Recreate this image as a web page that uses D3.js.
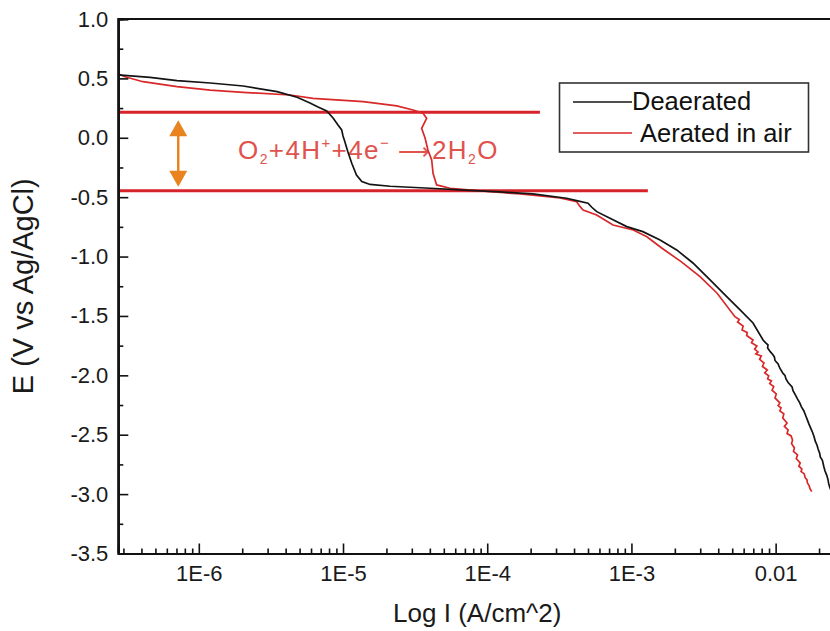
<!DOCTYPE html>
<html>
<head>
<meta charset="utf-8">
<script src="https://cdn.jsdelivr.net/npm/d3@7/dist/d3.min.js"></script>
<style>
  html, body { margin: 0; padding: 0; background: #fff; }
  svg { display: block; font-family: "Liberation Sans", Arial, sans-serif; }
</style>
</head>
<body>
<svg id="chart" width="830" height="631"></svg>
<script>
// Potentiodynamic polarization curves: current density (A/cm^2) vs potential (V vs Ag/AgCl)
const seriesNames = ["Deaerated", "Aerated in air"];

const deaeratedI = [2.75e-7, 4.59e-7, 7.06e-7, 1.20e-6, 2.03e-6, 3.49e-6, 4.80e-6, 5.90e-6, 6.71e-6, 7.71e-6,
  8.53e-6, 9.23e-6, 9.79e-6, 1.00e-5, 1.03e-5, 1.08e-5, 1.15e-5, 1.24e-5, 1.35e-5, 1.54e-5,
  2.12e-5, 4.01e-5, 6.47e-5, 1.23e-4, 2.07e-4, 3.55e-4, 4.17e-4, 5.00e-4, 5.31e-4, 5.75e-4,
  7.10e-4, 9.28e-4, 1.20e-3, 1.58e-3, 2.06e-3, 2.67e-3, 3.51e-3, 4.58e-3, 5.67e-3, 6.97e-3,
  8.18e-3, 8.50e-3, 8.85e-3, 8.80e-3, 9.20e-3, 9.55e-3, 9.80e-3, 9.90e-3, 1.04e-2, 1.07e-2,
  1.12e-2, 1.16e-2, 1.18e-2, 1.22e-2, 1.30e-2, 1.32e-2, 1.37e-2, 1.42e-2, 1.47e-2, 1.51e-2,
  1.57e-2, 1.62e-2, 1.66e-2, 1.70e-2, 1.76e-2, 1.81e-2, 1.85e-2, 1.88e-2, 1.94e-2, 1.97e-2,
  2.02e-2, 2.04e-2, 2.11e-2, 2.13e-2, 2.16e-2, 2.20e-2, 2.26e-2, 2.31e-2, 2.33e-2, 2.37e-2,
  2.44e-2, 2.50e-2];
const deaeratedE = [0.529, 0.508, 0.481, 0.461, 0.436, 0.388, 0.341, 0.293, 0.259, 0.226,
  0.167, 0.108, 0.066, 0.015, -0.033, -0.117, -0.215, -0.313, -0.368, -0.393,
  -0.408, -0.425, -0.439, -0.456, -0.473, -0.509, -0.529, -0.551, -0.585, -0.622,
  -0.678, -0.748, -0.790, -0.860, -0.944, -1.054, -1.197, -1.338, -1.449, -1.559,
  -1.702, -1.725, -1.744, -1.770, -1.803, -1.825, -1.845, -1.875, -1.904, -1.940,
  -1.980, -2.000, -2.030, -2.060, -2.098, -2.130, -2.165, -2.200, -2.232, -2.265,
  -2.300, -2.342, -2.375, -2.409, -2.450, -2.485, -2.520, -2.552, -2.590, -2.620,
  -2.655, -2.687, -2.715, -2.737, -2.770, -2.805, -2.840, -2.880, -2.910, -2.939,
  -2.980, -3.024];

const aeratedI = [2.70e-7, 2.88e-7, 3.08e-7, 4.10e-7, 7.06e-7, 1.20e-6, 2.03e-6, 4.30e-6, 6.19e-6, 1.38e-5,
  2.36e-5, 3.06e-5, 3.59e-5, 3.80e-5, 3.51e-5, 3.71e-5, 3.88e-5, 4.12e-5, 4.21e-5, 4.46e-5,
  5.52e-5, 8.50e-5, 1.69e-4, 3.20e-4, 4.17e-4, 4.41e-4, 4.62e-4, 5.74e-4, 7.45e-4, 1.03e-3,
  1.28e-3, 1.63e-3, 2.21e-3, 2.99e-3, 3.93e-3, 5.22e-3, 5.60e-3, 5.45e-3, 5.95e-3, 5.85e-3,
  6.35e-3, 6.30e-3, 6.97e-3, 6.80e-3, 7.41e-3, 7.15e-3, 7.55e-3, 7.30e-3, 7.95e-3, 7.75e-3,
  8.30e-3, 8.10e-3, 8.75e-3, 8.40e-3, 8.95e-3, 8.80e-3, 9.35e-3, 9.10e-3, 9.70e-3, 9.45e-3,
  1.01e-2, 9.90e-3, 1.07e-2, 1.04e-2, 1.09e-2, 1.07e-2, 1.14e-2, 1.12e-2, 1.20e-2, 1.15e-2,
  1.22e-2, 1.20e-2, 1.28e-2, 1.31e-2, 1.29e-2, 1.35e-2, 1.33e-2, 1.42e-2, 1.39e-2, 1.48e-2,
  1.45e-2, 1.52e-2, 1.50e-2, 1.58e-2, 1.60e-2, 1.65e-2, 1.66e-2, 1.71e-2, 1.73e-2, 1.78e-2];
const aeratedE = [0.543, 0.529, 0.514, 0.472, 0.430, 0.402, 0.383, 0.360, 0.332, 0.304,
  0.268, 0.234, 0.206, 0.164, 0.080, -0.004, -0.103, -0.187, -0.299, -0.397,
  -0.425, -0.445, -0.473, -0.507, -0.538, -0.580, -0.608, -0.650, -0.734, -0.776,
  -0.833, -0.930, -1.043, -1.169, -1.309, -1.506, -1.530, -1.551, -1.585, -1.618,
  -1.640, -1.665, -1.702, -1.725, -1.753, -1.780, -1.803, -1.820, -1.837, -1.865,
  -1.896, -1.925, -1.955, -1.980, -2.005, -2.030, -2.047, -2.070, -2.095, -2.125,
  -2.157, -2.190, -2.232, -2.255, -2.274, -2.300, -2.325, -2.360, -2.401, -2.430,
  -2.460, -2.490, -2.510, -2.544, -2.575, -2.611, -2.640, -2.670, -2.700, -2.737,
  -2.765, -2.788, -2.810, -2.830, -2.860, -2.880, -2.905, -2.931, -2.955, -2.979];

// Oxygen-reduction window marked by two horizontal lines
const o2Levels = [0.215, -0.445];
const o2LineEnds = [2.32e-4, 1.30e-3];
const arrowCurrent = 7.2e-7;

const xTickValues = [1e-6, 1e-5, 1e-4, 1e-3, 1e-2];
const xTickLabels = ["1E-6", "1E-5", "1E-4", "1E-3", "0.01"];
const yTickValues = [1.0, 0.5, 0.0, -0.5, -1.0, -1.5, -2.0, -2.5, -3.0, -3.5];

const colors = { dea: "#141414", aer: "#d8282a", level: "#d6222a", arrow: "#e8831f", eq: "#e0524e" };

const svg = d3.select("#chart");
const pLeft = 118.3, pRight = 836.2, pTop = 19, pBottom = 553.5;

const x = d3.scaleLog().domain([Math.pow(10, -6.5583), Math.pow(10, -1.58)]).range([pLeft, pRight]);
const y = d3.scaleLinear().domain([-3.5, 1.0]).range([pBottom, pTop]);

// minor tick positions: k * 10^n inside the domain
const xMinor = [];
for (let n = -7; n <= -2; n++) {
  for (let k = 2; k <= 9; k++) {
    const v = k * Math.pow(10, n);
    if (v > x.domain()[0] && v < x.domain()[1]) xMinor.push(v);
  }
}
const yMinor = d3.range(-3.25, 1.0, 0.5);

const plot = svg.append("g");

// frame (top and right edges)
plot.append("path")
  .attr("d", `M${pLeft},${pBottom} L${pLeft},${pTop} L${pRight},${pTop} L${pRight},${pBottom}`)
  .attr("fill", "none").attr("stroke", "#111").attr("stroke-width", 2);

// horizontal reaction-window lines
o2Levels.forEach((lv, i) => {
  plot.append("line")
    .attr("x1", pLeft).attr("x2", x(o2LineEnds[i]))
    .attr("y1", y(lv)).attr("y2", y(lv))
    .attr("stroke", colors.level).attr("stroke-width", 3);
});

// double-headed arrow between the two levels
const ax = x(arrowCurrent), ay1 = y(o2Levels[0]) + 8, ay2 = y(o2Levels[1]) - 4;
plot.append("line")
  .attr("x1", ax).attr("x2", ax).attr("y1", ay1 + 14).attr("y2", ay2 - 14)
  .attr("stroke", colors.arrow).attr("stroke-width", 2.5);
plot.append("path")
  .attr("d", `M${ax},${ay1} L${ax - 9},${ay1 + 16} L${ax + 9},${ay1 + 16} Z`)
  .attr("fill", colors.arrow);
plot.append("path")
  .attr("d", `M${ax},${ay2} L${ax - 9},${ay2 - 16} L${ax + 9},${ay2 - 16} Z`)
  .attr("fill", colors.arrow);

// reaction equation
const eq = plot.append("text")
  .attr("x", 238).attr("y", 159)
  .attr("fill", colors.eq).attr("font-size", 26).attr("letter-spacing", 1.4);
eq.append("tspan").text("O");
eq.append("tspan").attr("font-size", 14).attr("dy", 5).text("2");
eq.append("tspan").attr("dy", -5).text("+4H");
eq.append("tspan").attr("font-size", 15).attr("dy", -11).text("+");
eq.append("tspan").attr("dy", 11).text("+4e");
eq.append("tspan").attr("font-size", 15).attr("dy", -11).text("\u2212");
eq.append("tspan").attr("dy", 11).attr("font-family", "'DejaVu Sans', sans-serif")
  .attr("font-size", 22).attr("font-weight", 300).text(" \u27F6");
eq.append("tspan").text("2H");
eq.append("tspan").attr("font-size", 14).attr("dy", 5).text("2");
eq.append("tspan").attr("dy", -5).text("O");

// curves
const line = d3.line().x(d => x(d[0])).y(d => y(d[1]));
svg.append("clipPath").attr("id", "plotClip")
  .append("rect").attr("x", pLeft).attr("y", pTop).attr("width", pRight - pLeft).attr("height", pBottom - pTop);

plot.append("path")
  .datum(aeratedI.map((v, i) => [v, aeratedE[i]]))
  .attr("d", line).attr("fill", "none")
  .attr("stroke", colors.aer).attr("stroke-width", 1.7)
  .attr("clip-path", "url(#plotClip)");
plot.append("path")
  .datum(deaeratedI.map((v, i) => [v, deaeratedE[i]]))
  .attr("d", line).attr("fill", "none")
  .attr("stroke", colors.dea).attr("stroke-width", 1.7)
  .attr("clip-path", "url(#plotClip)");

// axes
svg.append("g").attr("transform", `translate(0,${pBottom})`)
  .call(d3.axisBottom(x).tickValues(xTickValues).tickSize(-10).tickPadding(12)
    .tickFormat((d, i) => xTickLabels[i]));
svg.append("g").attr("transform", `translate(0,${pBottom})`)
  .call(d3.axisBottom(x).tickValues(xMinor).tickSize(-5).tickFormat(""));
svg.append("g").attr("transform", `translate(${pLeft},0)`)
  .call(d3.axisLeft(y).tickValues(yTickValues).tickSize(-10).tickPadding(10)
    .tickFormat(d => d.toFixed(1)));
svg.append("g").attr("transform", `translate(${pLeft},0)`)
  .call(d3.axisLeft(y).tickValues(yMinor).tickSize(-5).tickFormat(""));

svg.selectAll(".domain").attr("stroke", "#111").attr("stroke-width", 2);
svg.selectAll(".tick line").attr("stroke", "#111").attr("stroke-width", 1.6);
svg.selectAll(".tick text").attr("font-size", 22).attr("fill", "#1a1a1a")
  .attr("font-family", "'Liberation Sans', Arial, sans-serif");

// axis titles
svg.append("text")
  .attr("x", (pLeft + pRight) / 2).attr("y", 622)
  .attr("text-anchor", "middle").attr("font-size", 26).attr("fill", "#1a1a1a")
  .text("Log I (A/cm^2)");
svg.append("text")
  .attr("transform", `translate(33,${(pTop + pBottom) / 2}) rotate(-90)`)
  .attr("text-anchor", "middle").attr("font-size", 29).attr("fill", "#1a1a1a")
  .text("E (V vs Ag/AgCl)");

// legend
const lg = svg.append("g");
lg.append("rect").attr("x", 559.5).attr("y", 83).attr("width", 249).attr("height", 69)
  .attr("fill", "#fff").attr("stroke", "#333").attr("stroke-width", 1.6);
const legendRows = [
  { name: seriesNames[0], color: colors.dea, ly: 102, tx: 632, ty: 110 },
  { name: seriesNames[1], color: colors.aer, ly: 133, tx: 640, ty: 142 }
];
legendRows.forEach(r => {
  lg.append("line").attr("x1", 573).attr("x2", 632).attr("y1", r.ly).attr("y2", r.ly)
    .attr("stroke", r.color).attr("stroke-width", 1.6);
  lg.append("text").attr("x", r.tx).attr("y", r.ty)
    .attr("font-size", 25.5).attr("fill", "#111").text(r.name);
});
</script>
</body>
</html>
